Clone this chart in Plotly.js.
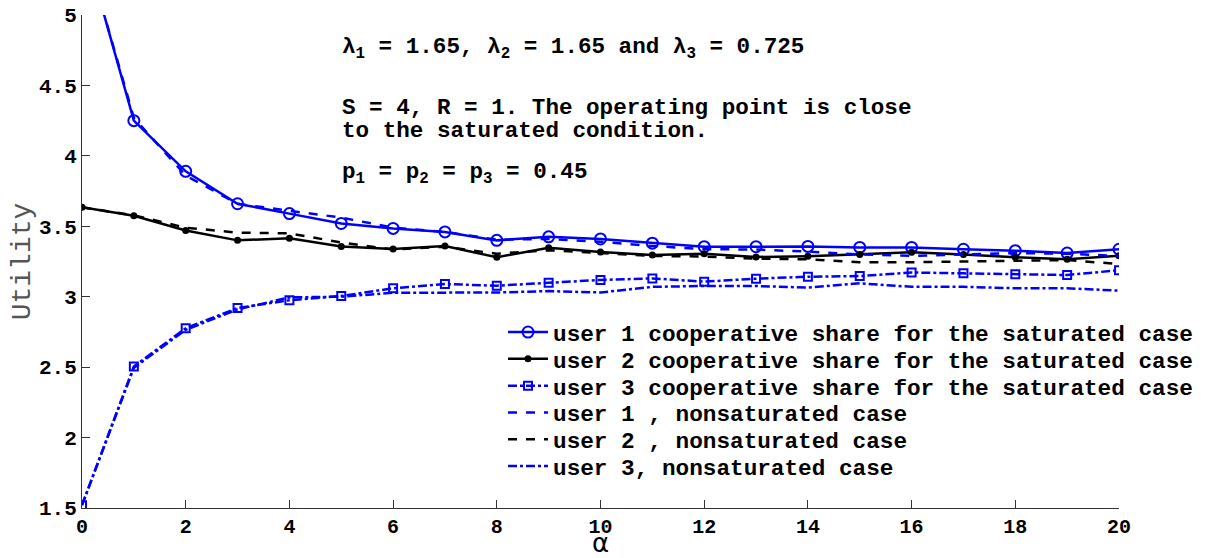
<!DOCTYPE html>
<html>
<head>
<meta charset="utf-8">
<script src="https://cdn.plot.ly/plotly-3.0.1.min.js"></script>
<style>html,body{margin:0;padding:0;background:#fff;}#chart{width:1207px;height:558px;}</style>
</head>
<body>
<div id="chart"></div>
<script>
const alpha = [0,1,2,3,4,5,6,7,8,9,10,11,12,13,14,15,16,17,18,19,20];

const user1Coop = [5.56,4.25,3.89,3.66,3.59,3.52,3.485,3.46,3.40,3.425,3.41,3.38,3.355,3.355,3.357,3.35,3.35,3.337,3.327,3.31,3.337];
const user2Coop = [3.635,3.575,3.47,3.40,3.415,3.357,3.338,3.36,3.28,3.348,3.317,3.296,3.305,3.282,3.288,3.30,3.315,3.30,3.28,3.266,3.29];
const user3Coop = [1.52,2.505,2.776,2.92,2.975,3.005,3.06,3.09,3.078,3.10,3.119,3.13,3.107,3.128,3.142,3.147,3.172,3.166,3.16,3.154,3.188];
const user1Non = [5.55,4.27,3.86,3.66,3.61,3.562,3.49,3.46,3.405,3.41,3.39,3.36,3.338,3.335,3.32,3.30,3.29,3.30,3.31,3.305,3.29];
const user2Non = [3.635,3.578,3.49,3.455,3.45,3.385,3.335,3.355,3.305,3.33,3.31,3.29,3.285,3.27,3.266,3.245,3.245,3.25,3.26,3.26,3.232];
const user3Non = [1.52,2.495,2.765,2.91,2.995,3.00,3.028,3.03,3.03,3.04,3.03,3.07,3.076,3.076,3.065,3.095,3.07,3.07,3.06,3.06,3.043];

const seriesNames = [
  "user 1 cooperative share for the saturated case",
  "user 2 cooperative share for the saturated case",
  "user 3 cooperative share for the saturated case",
  "user 1 , nonsaturated case",
  "user 2 , nonsaturated case",
  "user 3, nonsaturated case"
];

const xTickVals = [0,2,4,6,8,10,12,14,16,18,20];
const yTickVals = [1.5,2,2.5,3,3.5,4,4.5,5];
const yTickText = ["1.5","2","2.5","3","3.5","4","4.5","5"];

const BLUE = "#0000ff";
const MONO = "'Liberation Mono', 'Courier New', monospace";

const traces = [
  {x: alpha, y: user1Coop, name: seriesNames[0], mode: "lines+markers",
   line: {color: BLUE, width: 2.5}, marker: {symbol: "circle-open", size: 11, color: BLUE, line: {width: 2}}},
  {x: alpha, y: user2Coop, name: seriesNames[1], mode: "lines+markers",
   line: {color: "#000", width: 2.5}, marker: {symbol: "circle", size: 7, color: "#000"}},
  {x: alpha, y: user3Coop, name: seriesNames[2], mode: "lines+markers",
   line: {color: BLUE, width: 2.5, dash: "dashdot"}, marker: {symbol: "square-open", size: 8, color: BLUE, line: {width: 2}}},
  {x: alpha, y: user1Non, name: seriesNames[3], mode: "lines",
   line: {color: BLUE, width: 2.5, dash: "dash"}},
  {x: alpha, y: user2Non, name: seriesNames[4], mode: "lines",
   line: {color: "#000", width: 2.5, dash: "dash"}},
  {x: alpha, y: user3Non, name: seriesNames[5], mode: "lines",
   line: {color: BLUE, width: 2.5, dash: "dashdot"}}
];

const annFont = {family: MONO, size: 22.6, color: "#000", weight: "bold"};

const layout = {
  width: 1207, height: 558,
  paper_bgcolor: "#fff", plot_bgcolor: "#fff",
  margin: {l: 82, r: 88, t: 15, b: 50, autoexpand: false},
  showlegend: true,
  legend: {
    x: 0.406, y: 0.40, xanchor: "left", yanchor: "top",
    bgcolor: "rgba(0,0,0,0)", borderwidth: 0,
    font: {family: MONO, size: 22.7, color: "#000", weight: "bold"},
    itemwidth: 40
  },
  xaxis: {
    range: [0, 20], tickvals: xTickVals, ticks: "inside", ticklen: 8,
    tickcolor: "#333", showline: true, linecolor: "#333", linewidth: 1,
    showgrid: false, zeroline: false, mirror: false,
    tickfont: {family: MONO, size: 20, color: "#000", weight: "bold"},
    title: {text: "α", font: {family: "DejaVu Sans", size: 26, color: "#000"}, standoff: 8}
  },
  yaxis: {
    range: [1.5, 5], tickvals: yTickVals, ticktext: yTickText, ticks: "inside", ticklen: 8,
    tickcolor: "#333", showline: true, linecolor: "#333", linewidth: 1,
    showgrid: false, zeroline: false, mirror: false,
    tickfont: {family: MONO, size: 21, color: "#000", weight: "bold"},
    title: {text: "Utility", font: {family: MONO, size: 28, color: "#555"}, standoff: 0}
  },
  annotations: [
    {xref: "paper", yref: "paper", x: 0.249, y: 0.933, xanchor: "left", yanchor: "middle", showarrow: false,
     text: "λ<sub>1</sub> = 1.65, λ<sub>2</sub> = 1.65 and λ<sub>3</sub> = 0.725", font: annFont},
    {xref: "paper", yref: "paper", x: 0.249, y: 0.812, xanchor: "left", yanchor: "middle", showarrow: false,
     text: "S = 4, R = 1. The operating point is close", font: annFont},
    {xref: "paper", yref: "paper", x: 0.249, y: 0.765, xanchor: "left", yanchor: "middle", showarrow: false,
     text: "to the saturated condition.", font: annFont},
    {xref: "paper", yref: "paper", x: 0.249, y: 0.678, xanchor: "left", yanchor: "middle", showarrow: false,
     text: "p<sub>1</sub> = p<sub>2</sub> = p<sub>3</sub> = 0.45", font: annFont}
  ]
};

Plotly.newPlot("chart", traces, layout, {displayModeBar: false, staticPlot: true}).then(function (gd) {
  // tighten legend row spacing to match the reference's compact legend
  const items = gd.querySelectorAll(".legend .traces");
  let y0 = null;
  items.forEach(function (g, i) {
    const m = /translate\(\s*([-\d.e]+)[\s,]+([-\d.e]+)\s*\)/.exec(g.getAttribute("transform") || "");
    if (!m) return;
    if (y0 === null) y0 = parseFloat(m[2]);
    g.setAttribute("transform", "translate(" + m[1] + "," + (y0 + i * 26.8) + ")");
  });
});
</script>
</body>
</html>
